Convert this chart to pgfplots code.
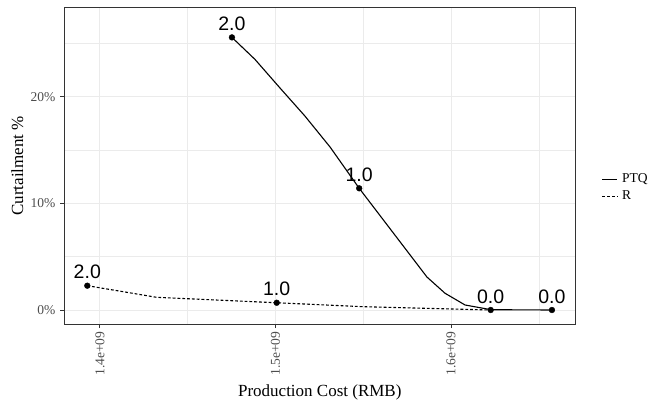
\documentclass[border=0pt]{standalone}
\usepackage{fontspec}
\setmainfont{Liberation Serif}
\newfontfamily\labelfont{Liberation Sans}
\usepackage{pgfplots}
\pgfplotsset{compat=1.18}
\definecolor{gridgray}{HTML}{EBEBEB}
\definecolor{framegray}{HTML}{333333}
\definecolor{ticktext}{HTML}{4D4D4D}

% curtailment against production cost, one curve per scheme
\pgfplotstableread{
x y
1.4752e9 25.56
1.4883e9 23.50
1.5026e9 20.81
1.5168e9 18.18
1.5311e9 15.28
1.5477e9 11.41
1.5863e9 3.09
1.5966e9 1.57
1.6080e9 0.47
1.6228e9 0.03
1.6575e9 0.00
}\ptqline
\pgfplotstableread{
x y
1.3928e9 2.28
1.4323e9 1.19
1.5007e9 0.68
1.5499e9 0.31
1.6226e9 0.00
}\rline
\pgfplotstableread{
x y label
1.4752e9 25.56 2.0
1.5477e9 11.41 1.0
1.6575e9 0.00 0.0
}\ptqpts
\pgfplotstableread{
x y label
1.3928e9 2.28 2.0
1.5007e9 0.68 1.0
1.6226e9 0.00 0.0
}\rpts

\begin{document}
\begin{tikzpicture}[x=1pt,y=1pt]
\useasboundingbox (-64.3,-77.7) rectangle (589.7,324.3);
\begin{axis}[
  at={(0,0)}, anchor=south west, scale only axis,
  width=511pt, height=317pt,
  xmin=1.3797e9, xmax=1.6708e9, ymin=-1.34, ymax=28.38,
  axis line style={framegray, line width=0.9pt},
  scaled x ticks=false,
  xtick={1.4e9,1.5e9,1.6e9}, xticklabels={1.4e+09,1.5e+09,1.6e+09},
  minor xtick={1.45e9,1.55e9,1.65e9},
  ytick={0,10,20}, yticklabels={0\%,10\%,20\%},
  minor ytick={5,15,25},
  grid=both,
  major grid style={gridgray, line width=1pt},
  minor grid style={gridgray, line width=0.55pt},
  tick align=outside, major tick length=3.8pt, minor tick length=0pt,
  tick style={framegray, line width=0.9pt},
  xtick pos=lower, ytick pos=left,
  tick label style={font=\fontsize{13.5}{13.5}\selectfont, text=ticktext},
  xticklabel style={rotate=90, anchor=east},
  yticklabel style={anchor=east, xshift=-1.5pt},
  xlabel={Production Cost (RMB)}, ylabel={Curtailment \%},
  label style={font=\fontsize{17}{17}\selectfont},
  xlabel style={at={(axis description cs:0.5,-0.2293)}, anchor=base},
  ylabel style={at={(axis description cs:-0.0808,0.5)}, anchor=base, rotate=0},
  legend style={at={(1.0517,0.430)}, anchor=west, draw=none, fill=none,
    font=\fontsize{13.5}{13.5}\selectfont, inner sep=0pt, row sep=4.5pt,
    nodes={inner xsep=4pt, inner ysep=0pt, text height=9pt, text depth=3pt}},
  legend cell align=left,
  legend image code/.code={\draw[#1] (0pt,0pt) -- (15pt,0pt);},
  nodes near coords style={font=\labelfont\fontsize{19.5}{19.5}\selectfont,
    anchor=base, yshift=7pt, inner sep=0pt, text=black},
]
\addplot[black, line width=1.1pt] table {\ptqline};
\addlegendentry{PTQ}
\addplot[black, line width=1.1pt, dash pattern=on 2.8pt off 2pt] table {\rline};
\addlegendentry{R}
\addplot[forget plot, only marks, mark=*, mark size=2.9pt, black,
  nodes near coords, point meta=explicit symbolic] table[meta=label] {\ptqpts};
\addplot[forget plot, only marks, mark=*, mark size=2.9pt, black,
  nodes near coords, point meta=explicit symbolic] table[meta=label] {\rpts};
\end{axis}
\end{tikzpicture}
\end{document}
